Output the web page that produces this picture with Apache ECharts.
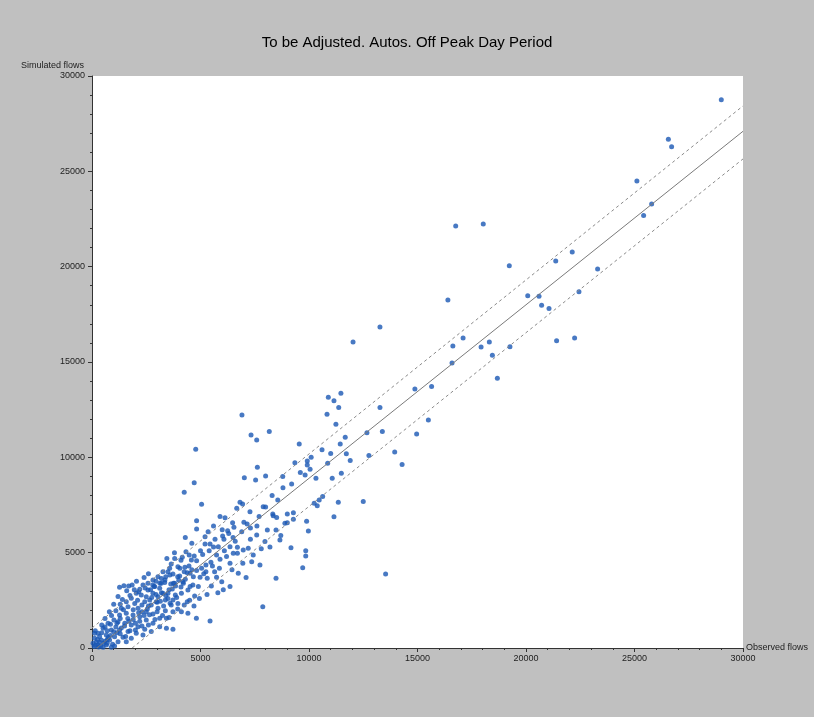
<!DOCTYPE html>
<html><head><meta charset="utf-8">
<script src="https://cdn.jsdelivr.net/npm/echarts@6/dist/echarts.min.js"></script>
<style>html,body{margin:0;padding:0;background:#c0c0c0}#c{width:814px;height:717px}</style>
</head><body><div id="c"></div>
<script>
const titleText = 'To be Adjusted. Autos. Off Peak Day Period';
const xName = 'Observed flows';
const yName = 'Simulated flows';
const axisMin = 0, axisMax = 30000, axisStep = 5000;

// regression line and band (endpoints)
const fitLine = [[220, 0], [30000, 27100]];
const upperBand = [[0, 1050], [30000, 28430]];
const lowerBand = [[1850, 0], [30000, 25650]];

// observed vs simulated points
const highPoints = [[29000,28750],[26560,26680],[26710,26290],[25110,24490],[25790,23290],[25420,22680],[16760,22130],[18030,22240],[19230,20050],[21370,20300],[22130,20770],[23300,19880],
[20080,18480],[20600,18450],[20720,17970],[21060,17800],[22440,18690],[21410,16120],[22240,16260],[17930,15790],[18310,16050],[18450,15350],[19260,15800],[18680,14150],
[16400,18250],[13270,16840],[12030,16050],[16630,15840],[17100,16260],[16590,14950],[15650,13710],[14880,13580]];

const midPoints = [[10890,13150],[11150,12970],[11470,13360],[11370,12620],[10830,12260],[13270,12620],[11240,11730],[9550,10700],[11670,11050],[11440,10700],[12670,11290],[13380,11350],[11720,10190],[11900,9840],[12760,10090],[13950,10280],[14290,9620],[14960,11220],[15500,11960],[9350,9720],[9920,9810],[9920,9600],[10050,9370],[9820,9070],[8790,8990],[10320,8900],[10860,9690],[11070,8900],[11490,9160],[10240,7590],[10380,7460],[10470,7760],[10630,7940],[11350,7640],[12500,7690],[11150,6890],[9280,7100],[9280,6750],[8890,6540],[9890,6650],[9970,6140],[8660,5660],[9170,5260],[9850,5100],[9850,4830],[9710,4210],[13530,3880],
[8170,11350],[7590,10910],[7330,11170],[6910,12220],[7620,9480],[7540,8810],[8000,9020],[8560,7760],[7890,7410],[7280,7150],[8350,6940],[7870,2170],[5440,1420]];

const lowPoints = [[4780,10420],[4710,8670],[4250,8170],[5050,7540],[7020,8930],[6820,7640],[6940,7550],[6670,7330],[6130,6830],[6480,6570],[6540,6330],[4820,6680],[4820,6240],[5210,5840],[5670,5700],[6020,5870],[6080,5700],[6360,5310],[5820,5310],[5440,5450],[5210,5450],[6700,5280],[6510,4970],[6700,4970],[6970,5140],[7430,4880],[7200,5230],[7590,5930],[7970,5580],[8080,6190],[8480,6190],[8330,7030],[8510,6850],[9000,6570],[9000,7030],[8480,3660],[6740,3920],[7740,4350],[7360,4530],[6360,4440],[5900,4650],[5870,4180],[5480,4500],[5250,4350],[5050,4180],[4820,4580],[4480,4880],[4330,5050],[4710,4830],[5740,4880],[5250,4000],[4820,4060],[4280,4230],[4050,4180],[4520,3920],[4670,3740],[4980,3710],[5310,3660],[5740,3710],[5980,3480],[6360,3220],[3950,3740],[3590,3830],[3360,3570],[3130,3390],[3750,3390],[4210,3390],[4520,3220],[4900,3220],[2860,3220],
[5600,6400],[5900,6900],[6250,6150],[6900,6100],[7150,6500],[7600,6400],[7800,5200],[8200,5300],[8700,5900],[5350,6100],[5550,4300],[6200,4800],[6450,4100],[6950,4450],[7100,3700],[5650,4000],[6100,5100],[5000,5100],[4600,5500],[4300,5800],[4100,4600],[3800,5000],[3650,4400],[3450,4700],[5150,3900],[5500,3250],[6050,3050],[5800,2900],[5300,2800],[4950,2600],[4700,2200],[4500,2500],[6500,5800],[7300,5700]];

const nearOrigin = [[1270,3180],[1470,3270],[1690,3250],[4390,3950],[4470,4300],[3960,4260],[4040,3780],[3730,3880],[3630,3360],[3350,3430],[3120,3130],[3500,2870],[3840,2780],[4120,2870],[4420,3040],[4650,3300],[4730,2730],[4390,2430],[3960,2340],[3650,2260],[3380,2520],[3040,2690],[2810,2870],[2580,3040],[2270,2780],[2430,2430],[2730,2260],[3040,2080],[3380,1960],[3730,1900],[4120,1900],[4420,1820],[4810,1560],[3430,1560],[3120,1560],[2810,1780],[2500,1900],[2120,2080],[1970,2340],[1810,2610],[1580,2430],[1660,2170],[1350,2080],[1270,1730],[1580,1820],[1890,1730],[2200,1640],[2500,1470],[2810,1300],[3120,1120],[3430,1030],[3730,980],[1010,1470],[740,1300],[1200,1380],[1510,1300],[1810,1210],[2120,1120],[2430,980],[2730,860],[510,1030],[890,940],[1270,940],[1660,860],[2040,770],[2350,680],[280,770],[660,680],[1040,590],[1430,560],[1810,510],[120,510],[430,420],[810,420],[1200,330],[1580,330],[50,250],[280,160],[660,160],[1040,100],[100,80],[510,40],[890,40],[120,770],
[4580,4620],[4160,4760],[3810,4700],[3580,4180],[3270,4000],[3040,3740],[2810,3570],[2580,3390],[2350,3300],[2200,3080],[2040,2870],[3190,3390],[2890,3220],[3270,2870],[3810,3390],[4190,3480],[3400,3740],[2500,2690],[2660,2520],[2960,2430],[3730,2520],
[200,300],[350,600],[150,900],[450,1200],[600,350],[700,900],[900,1700],[1100,1100],[1300,1550],[1450,2000],[1700,1400],[1900,2000],[2100,2500],[2300,1900],[2600,2200],[2800,3300],[3000,2400],[3200,2900],[3500,2600],[3700,3100],[300,50],[550,250],[750,550],[950,200],[1150,800],[1350,1050],[1550,600],[1750,900],[2000,1300],[2200,1400],[2400,1700],[2650,1750],[2900,1500],[3300,2200],[3600,2350],[3900,2650],[4100,3200],[4300,3600],[600,1550],[800,1900],[1000,2300],[1200,2700],[1400,2550],[1600,3000],[1850,3300],[2050,3500],[2400,3700],[2600,3900],[4600,4100],[5100,4900],[5400,5100],[5600,5300],[6000,6200],[6300,6000],[6600,5600],[7000,6600],[7300,6300],[7700,6900],[8000,7400],[8300,8000],[8800,8400],[9200,8600],[9600,9200],[10100,10000],[10600,10400],[11000,10200],
[150,150],[400,100],[250,450],[700,250],[850,650],[1000,850],[450,800],[600,1100],[1150,1300],[1300,750],[1500,1150],[1650,1550],[1900,1500],[2150,1850],[2300,2250],[2550,2050],[2750,2650],[2950,2800],[3150,2450],[3400,2750],[3550,3050],[3850,3250],[4000,3550],[4250,4000],[2150,2950],[2450,3150],[2700,3050],[2950,3500],[3200,3650],[3500,4000],[1750,2750],[1950,3050],[1100,1950],[1300,2300],[850,1250],[700,450],[350,300],[2300,1150],[2600,1200],[2000,950],[3000,1900],[3250,1700],[3550,1600],[3950,2050],[4250,2250]];

const points = highPoints.concat(midPoints, lowPoints, nearOrigin);

const font = 'Liberation Sans';
const axisColor = '#333';
function axis(name, isY) {
  return {
    type: 'value', min: axisMin, max: axisMax, interval: axisStep,
    name: name, nameLocation: 'end', nameGap: isY ? 6 : 3,
    nameTextStyle: isY ? {fontSize: 9, color: '#222', fontFamily: font, align: 'right', padding: [0, 8, 0, 0]}
                       : {fontSize: 9, color: '#222', fontFamily: font, align: 'left', verticalAlign: 'middle'},
    axisLine: {show: true, onZero: false, lineStyle: {color: axisColor, width: 1}},
    axisTick: {show: true, length: 4, lineStyle: {color: axisColor}},
    minorTick: {show: true, splitNumber: 5, length: 2, lineStyle: {color: axisColor}},
    splitLine: {show: false}, minorSplitLine: {show: false},
    axisLabel: {fontSize: 9, color: '#222', fontFamily: font, margin: isY ? 7 : 6,
      formatter: function (v) { return String(v); }}
  };
}

const chart = echarts.init(document.getElementById('c'), null, {renderer: 'canvas'});
chart.setOption({
  animation: false,
  backgroundColor: '#c0c0c0',
  title: {text: titleText, left: 'center', top: 30,
    textStyle: {fontSize: 15, fontWeight: 'normal', color: '#000', fontFamily: font}},
  grid: {left: 92, top: 76, right: 71, bottom: 69, show: true, backgroundColor: '#ffffff', borderWidth: 0},
  xAxis: axis(xName, false),
  yAxis: axis(yName, true),
  series: [
    {type: 'line', data: fitLine, symbol: 'none', silent: true, lineStyle: {color: '#7a7a7a', width: 1}, z: 3},
    {type: 'line', data: upperBand, symbol: 'none', silent: true, lineStyle: {color: '#8a8a8a', width: 1, type: [3, 3]}, z: 3},
    {type: 'line', data: lowerBand, symbol: 'none', silent: true, lineStyle: {color: '#8a8a8a', width: 1, type: [3, 3]}, z: 3},
    {type: 'scatter', data: points, symbol: 'circle', symbolSize: 5, itemStyle: {color: '#1a58b4'}, z: 2}
  ]
});
</script></body></html>
